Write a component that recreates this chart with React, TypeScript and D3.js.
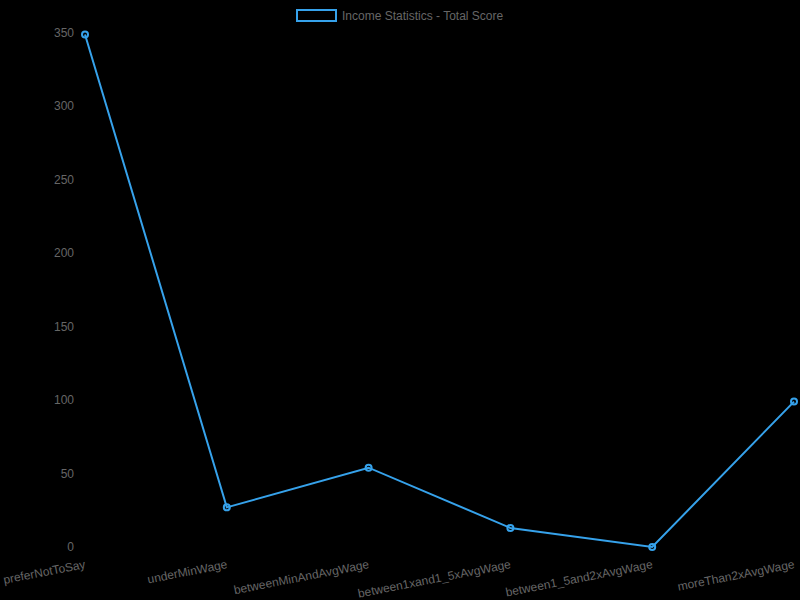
import React from 'react';
import * as d3 from 'd3';

const categories = ['preferNotToSay', 'underMinWage', 'betweenMinAndAvgWage', 'between1xand1_5xAvgWage', 'between1_5and2xAvgWage', 'moreThan2xAvgWage'];
const values = [349, 27, 54, 13, 0, 99];
const yTicks = [0, 50, 100, 150, 200, 250, 300, 350];
const seriesLabel = 'Income Statistics - Total Score';

export default function App() {
    const width = 800;
    const height = 600;
    const color = '#36a2eb';

    const x = d3.scalePoint<string>().domain(categories).range([85, 794]);
    const y = d3.scaleLinear().domain([0, 350]).range([547, 33]);
    const line = d3.line<number>()
        .x((_, i) => x(categories[i]) as number)
        .y(d => y(d));

    return (
        <svg width={width} height={height}
            style={{ position: 'fixed', left: 0, top: 0, background: '#000', fontFamily: 'Liberation Sans, Arial, sans-serif' }}>
            <rect width={width} height={height} fill="#000" />
            {/* legend */}
            <rect x={297} y={10} width={39} height={11} fill="none" stroke={color} strokeWidth={2} />
            <text x={342} y={20} fontSize={12} fill="#666">{seriesLabel}</text>
            {/* y ticks */}
            {yTicks.map(t => (
                <text key={t} x={74} y={y(t) + 4} fontSize={12} fill="#666" textAnchor="end">{t}</text>
            ))}
            {/* x labels */}
            {categories.map(c => (
                <text key={c} transform={`translate(${(x(c) as number) + 1},${568}) rotate(-11)`}
                    fontSize={12} fill="#666" textAnchor="end">{c}</text>
            ))}
            <path d={line(values) || ''} fill="none" stroke={color} strokeWidth={2} />
            {values.map((v, i) => (
                <circle key={i} cx={x(categories[i])} cy={y(v)} r={3} fill="none" stroke={color} strokeWidth={2} />
            ))}
        </svg>
    );
}
